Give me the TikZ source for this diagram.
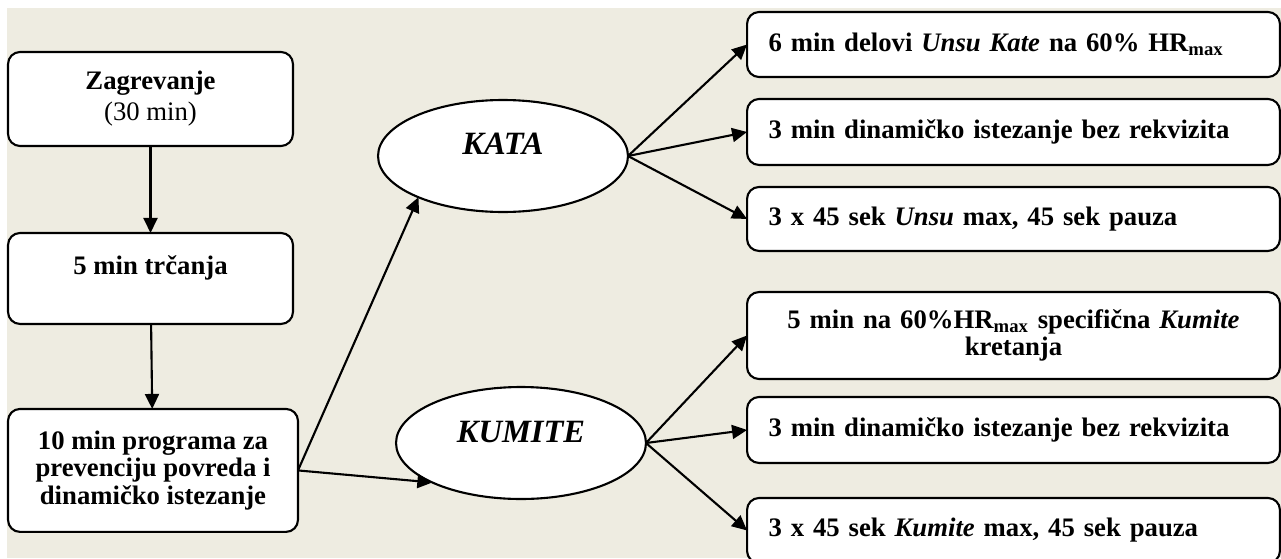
\documentclass[tikz,border=0pt]{standalone}
\usepackage{fontspec}
\setmainfont{Liberation Serif}
\usepackage{tikz}
\usetikzlibrary{positioning,shapes.geometric,arrows.meta}

\definecolor{bgtan}{HTML}{EEECE1}

\begin{document}
\begin{tikzpicture}[
   x=0.02cm, y=-0.02cm,
   box/.style={draw, fill=white, line width=1.2pt, rounded corners=0.24cm,
      font=\fontsize{15.2}{15.6}\selectfont\bfseries, align=center,
      inner sep=0pt, outer sep=0pt},
   task/.style={box, text width=9.8cm, inner xsep=0.43cm, align=left},
   oval/.style={draw, fill=white, ellipse, line width=1.2pt,
      minimum width=5cm, minimum height=2.24cm, inner sep=0pt, outer sep=0pt,
      font=\fontsize{18.5}{22}\selectfont\bfseries\itshape},
   arr/.style={line width=1.2pt, -{Triangle[length=0.3cm,width=0.28cm]}}
]

\clip (0,0) rectangle (1281,558);
\fill[bgtan] (7,8) rectangle (1281,558);

% Warm-up column
\node[box, minimum width=5.7cm, minimum height=1.88cm] (warmup) at (150.5,99)
   {Zagrevanje\\[2pt]{\mdseries (30 min)}};
\node[box, minimum width=5.7cm, minimum height=1.82cm, below = 1.74cm of warmup] (running)
   {\raisebox{.22cm}[\height][\depth]{5 min trčanja}};
\node[box, minimum width=5.8cm, minimum height=2.46cm, below = 1.7cm of running, xshift=0.05cm] (program)
   {10 min programa za\\prevenciju povreda i\\dinamičko istezanje};

% Two branches
\node[oval] (kata) at (503,156) {\raisebox{.24cm}[\height][\depth]{KATA}};
\node[oval] (kumite) at (521,443) {\raisebox{.22cm}[\height][\depth]{KUMITE}};

\node[task, minimum height=1.3cm] (kata1) at (1013.5,44.5)
   {6 min delovi \textit{Unsu Kate} na 60\% HR\textsubscript{max}};
\node[task, minimum height=1.32cm, below = .44cm of kata1] (kata2)
   {3 min dinamičko istezanje bez rekvizita};
\node[task, minimum height=1.28cm, below = .44cm of kata2] (kata3)
   {3 x 45 sek \textit{Unsu} max, 45 sek pauza};

\node[task, minimum height=1.74cm, align=center] (kumite1) at (1013.5,335.5)
   {5 min na 60\%HR\textsubscript{max} specifična \textit{Kumite}\\kretanja};
\node[task, minimum height=1.32cm, below = .36cm of kumite1] (kumite2)
   {3 min dinamičko istezanje bez rekvizita};
\node[task, minimum height=1.3cm, below = .7cm of kumite2] (kumite3)
   {3 x 45 sek \textit{Kumite} max, 45 sek pauza};

% Connecting Arrows
\draw[arr] (warmup) -- (running);
\draw[arr] (running) -- (program);
\draw[arr] (program.east) -- (kata.206);
\draw[arr] (program.east) -- (kumite.204);
\foreach \t in {kata1,kata2,kata3}
   \draw[arr] (kata.east) -- (\t.west);
\foreach \t in {kumite1,kumite2,kumite3}
   \draw[arr] (kumite.east) -- (\t.west);

\end{tikzpicture}
\end{document}
